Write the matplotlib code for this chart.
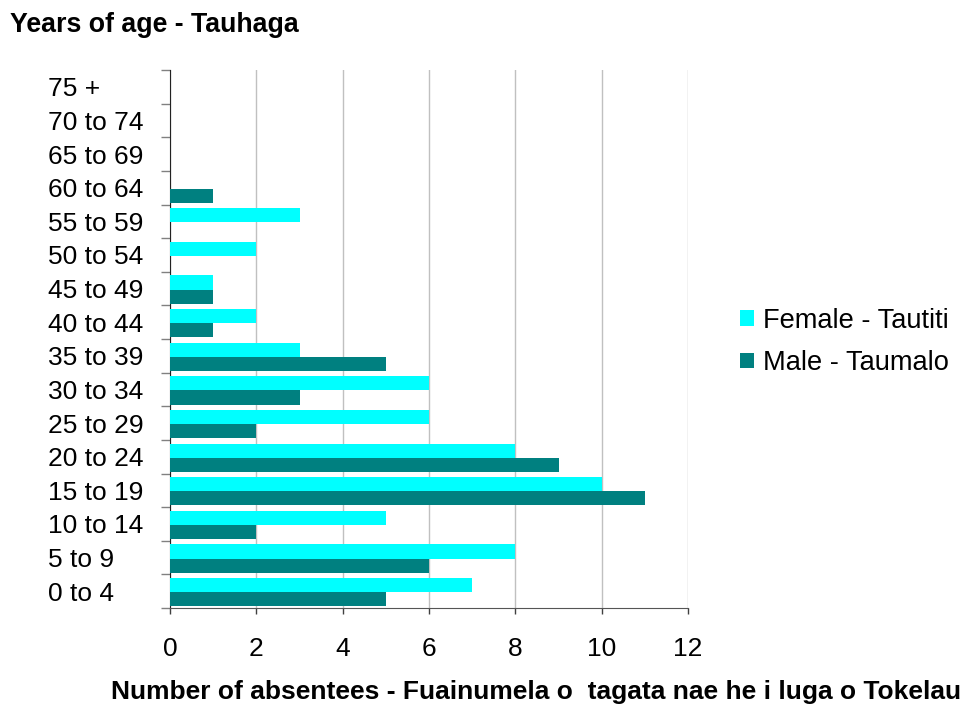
import matplotlib
matplotlib.use("Agg")
import matplotlib.pyplot as plt
import numpy as np
from matplotlib.patches import Patch

plt.rcParams['font.family'] = ['Liberation Sans', 'DejaVu Sans']

age_groups = ["0 to 4", "5 to 9", "10 to 14", "15 to 19", "20 to 24", "25 to 29",
              "30 to 34", "35 to 39", "40 to 44", "45 to 49", "50 to 54", "55 to 59",
              "60 to 64", "65 to 69", "70 to 74", "75 +"]
female = [7, 8, 5, 10, 8, 6, 6, 3, 2, 1, 2, 3, 0, 0, 0, 0]
male = [5, 6, 2, 11, 9, 2, 3, 5, 1, 1, 0, 0, 1, 0, 0, 0]
x_ticks = [0, 2, 4, 6, 8, 10, 12]

female_color = "#00FFFF"
male_color = "#008080"

fig = plt.figure(figsize=(9.69, 7.05), dpi=100)
ax = fig.add_axes([170/969, 1-608/705, (688-170)/969, (608-70)/705])

y = np.arange(len(age_groups))
h = 0.42
ax.barh(y + 0.18, female, height=h, color=female_color, zorder=3)
ax.barh(y - 0.24, male, height=h, color=male_color, zorder=3)

ax.set_xlim(0, 12)
ax.set_ylim(-0.5, len(age_groups) - 0.5)
ax.set_xticks(x_ticks)
ax.set_xticklabels([str(v) for v in x_ticks], fontsize=19)
ax.grid(axis='x', color='#c0c0c0', linewidth=1, zorder=0)

ax.set_yticks(y)
ax.set_yticklabels(age_groups, fontsize=19)
ax.set_yticks(np.arange(len(age_groups) + 1) - 0.5, minor=True)
ax.tick_params(axis='y', which='major', length=0, pad=87.8)
ax.tick_params(axis='y', which='minor', length=6.5, color='#808080', width=1)
for lbl in ax.get_yticklabels():
    lbl.set_horizontalalignment('left')
ax.tick_params(axis='x', which='major', length=4, color='#404040', width=1, pad=17)

for s in ['top', 'right']:
    ax.spines[s].set_visible(False)
ax.spines['left'].set_color('#222222')
ax.spines['bottom'].set_color('#555555')

fig.text(10/969, 1-12/705, "Years of age - Tauhaga", fontsize=19.3, fontweight='bold',
         ha='left', va='top')
fig.text(536/969, 1-692/705,
         "Number of absentees - Fuainumela o  tagata nae he i luga o Tokelau",
         fontsize=19, fontweight='bold', ha='center', va='center')

handles = [Patch(facecolor=female_color, label="Female - Tautiti"),
           Patch(facecolor=male_color, label="Male - Taumalo")]
fig.legend(handles=handles, loc='center left', bbox_to_anchor=(740/969, 1-342/705),
           frameon=False, fontsize=19.6, handlelength=0.5, handleheight=0.5,
           handletextpad=0.35, labelspacing=0.6, borderaxespad=0, borderpad=0)

fig.savefig("out.png", dpi=100)
